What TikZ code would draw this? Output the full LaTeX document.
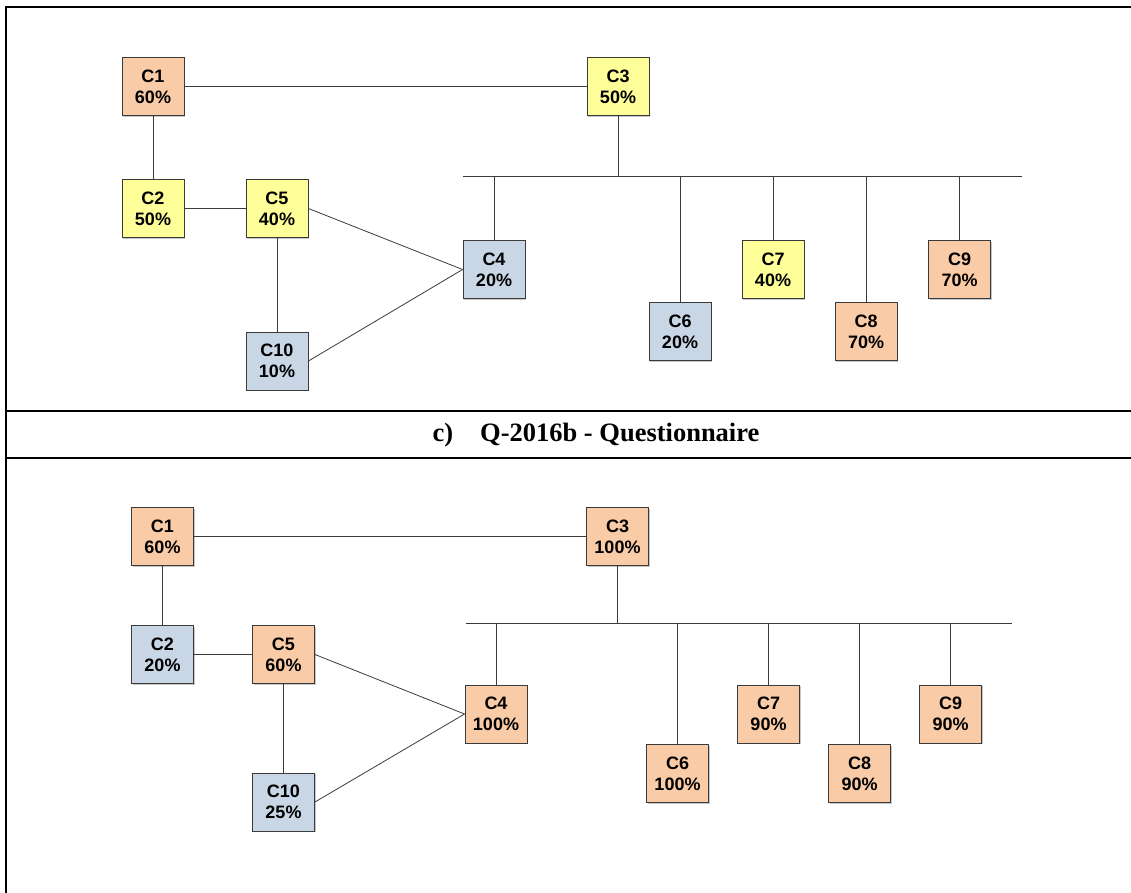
\documentclass[tikz,border=0pt]{standalone}
\usepackage{fontspec}
\setmainfont{Liberation Serif}
\setsansfont{Liberation Sans}
\usetikzlibrary{shadows}
\definecolor{peach}{HTML}{F9CBA7}
\definecolor{lemon}{HTML}{FFFF99}
\definecolor{steel}{HTML}{C9D6E6}
\definecolor{edgegray}{HTML}{3A3A3A}
\begin{document}
\begin{tikzpicture}[x=1pt,y=-1pt,
   cbox/.style={draw=edgegray,line width=0.9pt,minimum width=62pt,minimum height=58pt,
     inner sep=0pt,align=center,font=\sffamily\bfseries\fontsize{18}{21}\selectfont,
     drop shadow={shadow xshift=1.2pt,shadow yshift=-1.2pt,opacity=0.45,fill=gray}},
   hi/.style={cbox,fill=peach},
   mid/.style={cbox,fill=lemon},
   lo/.style={cbox,fill=steel},
   link/.style={draw=edgegray,line width=0.8pt},
   frame/.style={line width=2.2pt}]
   \useasboundingbox (0,0) rectangle (1131,893);
   % frame and caption row
   \draw [frame] (6,893) -- (6,7) -- (1131,7);
   \draw [frame] (6,411) -- (1131,411);
   \draw [frame] (6,458) -- (1131,458);
   \node (title) at (596,435) {\fontsize{26.5}{30}\selectfont\bfseries c)\hspace{27pt}Q-2016b - Questionnaire};
   % upper panel
   \node [hi]  (t1)  at (153,86.5)   {C1\\60\%};
   \node [mid] (t3)  at (618,86.5)   {C3\\50\%};
   \node [mid] (t2)  at (153,208.5)  {C2\\50\%};
   \node [mid] (t5)  at (277,208.5)  {C5\\40\%};
   \node [lo]  (t10) at (277,361)    {C10\\10\%};
   \node [lo]  (t4)  at (494,269.5)  {C4\\20\%};
   \node [lo]  (t6)  at (680,331.5)  {C6\\20\%};
   \node [mid] (t7)  at (773,269.5)  {C7\\40\%};
   \node [hi]  (t8)  at (866,331.5)  {C8\\70\%};
   \node [hi]  (t9)  at (959.5,269.5) {C9\\70\%};
   \coordinate (tbusL) at (463,176);
   \coordinate (tbusR) at (1022,176);
   \draw [link] (t1) -- (t3);
   \draw [link] (t1) -- (t2);
   \draw [link] (t2) -- (t5);
   \draw [link] (t5) -- (t10);
   \draw [link] (t5.east) -- (t4.west);
   \draw [link] (t10.east) -- (t4.west);
   \draw [link] (tbusL) -- (tbusR);
   \draw [link] (t3) -- (t3 |- tbusL);
   \foreach \k in {4,6,7,8,9}
     \draw [link] (t\k |- tbusL) -- (t\k);
   % lower panel
   \node [hi]  (b1)  at (162.5,536.5) {C1\\60\%};
   \node [hi]  (b3)  at (617.5,536.5) {C3\\100\%};
   \node [lo]  (b2)  at (162.5,654.5) {C2\\20\%};
   \node [hi]  (b5)  at (283.5,654.5) {C5\\60\%};
   \node [lo]  (b10) at (283.5,802)   {C10\\25\%};
   \node [hi]  (b4)  at (496,714)     {C4\\100\%};
   \node [hi]  (b6)  at (677.5,773.5) {C6\\100\%};
   \node [hi]  (b7)  at (768.5,714)   {C7\\90\%};
   \node [hi]  (b8)  at (859.5,773.5) {C8\\90\%};
   \node [hi]  (b9)  at (950.5,714)   {C9\\90\%};
   \coordinate (bbusL) at (466,623);
   \coordinate (bbusR) at (1012,623);
   \draw [link] (b1) -- (b3);
   \draw [link] (b1) -- (b2);
   \draw [link] (b2) -- (b5);
   \draw [link] (b5) -- (b10);
   \draw [link] (b5.east) -- (b4.west);
   \draw [link] (b10.east) -- (b4.west);
   \draw [link] (bbusL) -- (bbusR);
   \draw [link] (b3) -- (b3 |- bbusL);
   \foreach \k in {4,6,7,8,9}
     \draw [link] (b\k |- bbusL) -- (b\k);
\end{tikzpicture}
\end{document}
